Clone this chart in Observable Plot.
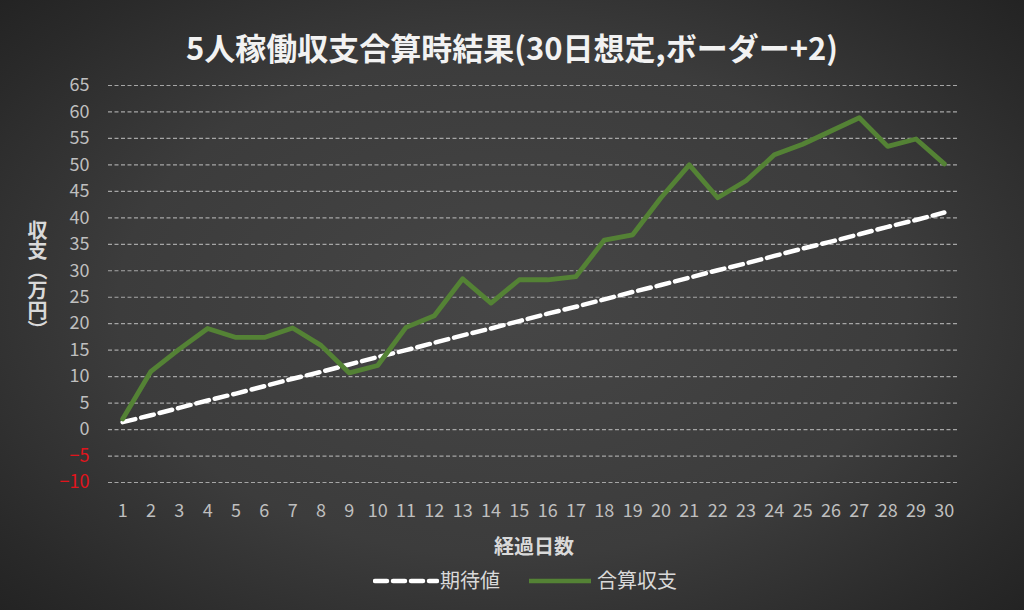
<!DOCTYPE html>
<html><head><meta charset="utf-8">
<script src="https://cdn.jsdelivr.net/npm/d3@7"></script>
<script src="https://cdn.jsdelivr.net/npm/@observablehq/plot@0.6"></script>
<style>
html,body{margin:0;padding:0;}
body{width:1024px;height:610px;overflow:hidden;position:relative;
  background:radial-gradient(ellipse 70% 75% at 50% 50%, #464646 0%, #3c3c3c 55%, #2a2a2a 85%, #222 100%);
  font-family:"Noto Sans CJK JP","Noto Sans",sans-serif;}
#title{position:absolute;top:31px;left:0;width:1024px;text-align:center;font-size:31px;line-height:1;font-weight:bold;color:#f2f2f2;}
#chart{position:absolute;top:70px;left:0;}
#ytitle{position:absolute;left:27px;top:220px;writing-mode:vertical-rl;font-size:20px;font-weight:bold;color:#d9d9d9;line-height:1;}
#xtitle{position:absolute;top:536px;left:0;width:1068px;text-align:center;font-size:20px;line-height:1;font-weight:bold;color:#d9d9d9;}
.leg{position:absolute;top:570px;font-size:20px;line-height:1;color:#d9d9d9;}
.sw{position:absolute;top:576px;}
</style></head>
<body>
<div id="title">5人稼働収支合算時結果(30日想定,ボーダー+2)</div>
<div id="chart"></div>
<div id="ytitle">収支（万円）</div>
<div id="xtitle">経過日数</div>
<svg class="sw" style="left:373px" width="66" height="10"><line x1="2" y1="5" x2="64" y2="5" stroke="#fff" stroke-width="4.5" stroke-dasharray="12,6" stroke-linecap="round"/></svg>
<div class="leg" style="left:440px">期待値</div>
<svg class="sw" style="left:528px" width="66" height="10"><line x1="1" y1="5" x2="63" y2="5" stroke="#548235" stroke-width="4.5"/></svg>
<div class="leg" style="left:597px">合算収支</div>
<script>
const days = [1,2,3,4,5,6,7,8,9,10,11,12,13,14,15,16,17,18,19,20,21,22,23,24,25,26,27,28,29,30];
const expected = [1.4,2.7,4.1,5.5,6.8,8.2,9.6,10.9,12.3,13.7,15.0,16.4,17.8,19.1,20.5,21.9,23.2,24.6,26.0,27.3,28.7,30.1,31.4,32.8,34.2,35.5,36.9,38.3,39.6,41.0];
const total = [2.0,11.0,15.2,19.1,17.4,17.4,19.2,15.9,10.7,12.1,19.3,21.5,28.5,23.9,28.3,28.3,28.9,35.8,36.8,43.8,50.0,43.8,47.0,51.9,53.9,56.4,58.9,53.5,54.9,50.2];
const yTicks = [-10,-5,0,5,10,15,20,25,30,35,40,45,50,55,60,65];

const data = days.map((d,i)=>({day:d, expected:expected[i], total:total[i]}));
const chart = Plot.plot({
  width:1024, height:460,
  marginLeft:108, marginRight:66, marginTop:15, marginBottom:48,
  style:{background:"transparent", fontFamily:"'Noto Sans CJK JP','Noto Sans',sans-serif", fontSize:"18px"},
  x:{domain:[0.5,30.5]},
  y:{domain:[-10,65]},
  marks:[
    Plot.gridY(yTicks,{stroke:"#a6a6a6", strokeOpacity:1, strokeWidth:1.2, strokeDasharray:"4,2.5"}),
    Plot.lineY(data,{x:"day", y:"expected", stroke:"#ffffff", strokeWidth:4.5, strokeDasharray:"13,6"}),
    Plot.lineY(data,{x:"day", y:"total", stroke:"#548235", strokeWidth:4.8}),
    Plot.axisY(yTicks,{tickSize:0, tickPadding:19, label:null, fontSize:18, fill:d => d < 0 ? "#e0141c" : "#bfbfbf"}),
    Plot.axisX(days,{tickSize:0, tickPadding:22, label:null, fontSize:18, fill:"#bfbfbf"})
  ]
});
document.getElementById("chart").appendChild(chart);
</script>
</body></html>
